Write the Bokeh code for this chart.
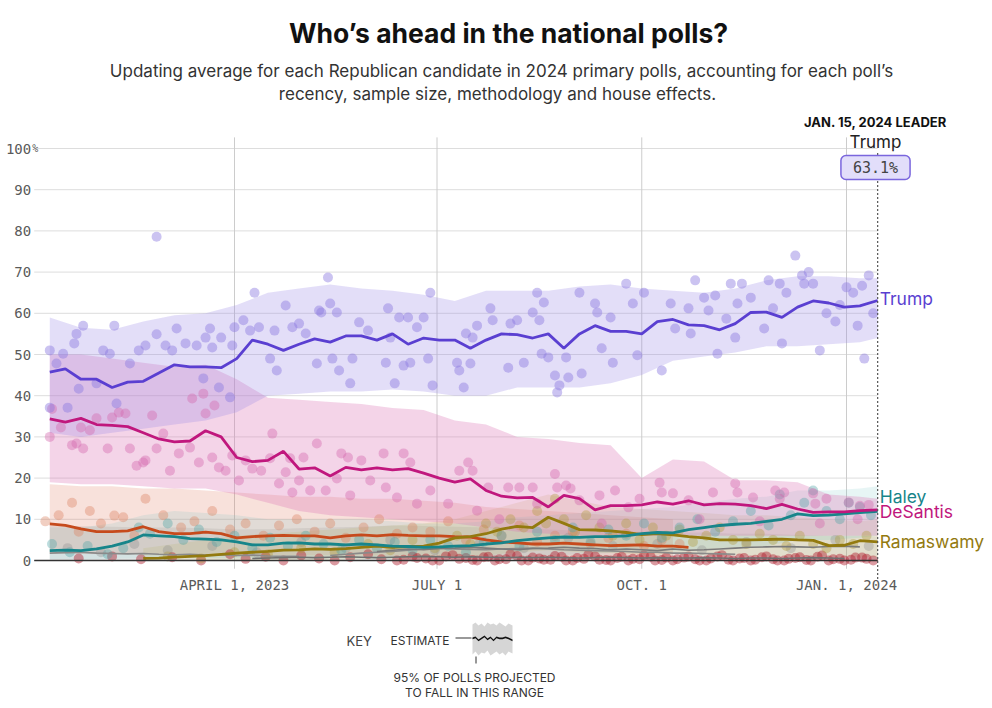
import pandas as pd
from bokeh.plotting import figure
from bokeh.models import Range1d, FixedTicker, Label, PolyAnnotation
from bokeh.embed import file_html
from bokeh.resources import INLINE

# ---------------- data ----------------
ORIGIN = "2023-01-01"
FIRST_WEEK = "2023-01-08"
LEADER_DATE = "2024-01-15"

x_tick_dates = ["2023-04-01", "2023-07-01", "2023-10-01", "2024-01-01"]
x_tick_labels = ["APRIL 1, 2023", "JULY 1", "OCT. 1", "JAN. 1, 2024"]
y_ticks = [0, 10, 20, 30, 40, 50, 60, 70, 80, 90, 100]

trump = [45.7, 46.5, 44, 44, 42, 43.3, 43.5, 45.5, 47.5, 47,
         47, 46.8, 49, 53.5, 52.5, 51, 52.5, 53.8, 53, 54.5,
         54.5, 53.5, 55, 52.5, 54, 53.5, 53.5, 51.5, 53.5, 55,
         54.8, 54, 55, 51.5, 55, 57, 55.6, 55.6, 55, 58,
         58.5, 57.2, 57, 56, 57.5, 60.2, 60.3, 59, 61.5, 63,
         62.5, 61.5, 61.8, 63.1]
desantis = [34.4, 33.6, 34.5, 33, 32.8, 32.5, 31, 29.5, 28.8, 29,
            31.5, 30, 25, 24, 24.3, 26.5, 22.2, 22.5, 20.5, 22.6,
            22, 22.5, 22, 22.3, 21.2, 20, 19, 19.8, 17, 15.6,
            15.2, 15.3, 13, 15.8, 15, 12.3, 13.3, 13.3, 13.5, 14.2,
            13.7, 14.5, 13.5, 13.8, 13.7, 13.3, 12.6, 13.6, 12.5, 11.7,
            11.8, 11.8, 12.1, 12.3]
haley = [2.4, 2.5, 2.4, 2.8, 3.5, 4.5, 6.2, 6, 5.8, 5.3,
         5.2, 5, 4.5, 3.8, 3.8, 4.2, 4.3, 4, 4, 3.8,
         4, 3.8, 3.5, 3.4, 3.2, 3.3, 3.5, 3.6, 4, 4.3,
         4.8, 5.2, 5.5, 5.7, 5.6, 5.8, 5.8, 6, 6.5, 6.8,
         6.7, 7.5, 8, 8.5, 8.8, 9, 9.5, 10, 11.3, 10.9,
         11, 11.3, 11.6, 11.9]
pence = [8.9, 8.5, 7.7, 7, 7, 7.2, 8.2, 7, 6.5, 6.5,
         6.9, 6.5, 5.5, 5.8, 6, 6.1, 6, 6, 5.5, 6,
         6.2, 6, 6.3, 6.1, 6, 6, 5.8, 5.7, 5, 4.5,
         4.3, 4, 4, 4.2, 4, 3.8, 3.6, 3.7, 3.8, 3.5,
         3.5, 3.2]
ramaswamy = [0.5, 0.6, 0.8, 1, 1.2, 1.5, 1.8, 2, 2.2, 2.5,
             2.6, 2.8, 2.7, 2.9, 3.2, 3.5, 3.2, 3.4, 3.5, 4.2,
             5.5, 5.8, 6.5, 7.6, 8.3, 8, 10.5, 9, 7.5, 7.4,
             7.2, 6.8, 6.3, 6.5, 6.2, 5.8, 5.5, 5, 5, 5,
             5.1, 5.2, 5, 4.9, 3.6, 3.7, 4.8, 4.5]
christie = [2.2, 2.5, 2.8, 2.6, 2.9, 3, 3.2, 3, 2.8, 2.6,
            2.9, 3, 3.2, 3, 2.9, 2.6, 2.8, 2.6, 2.4, 2.8,
            2.5, 2.6, 2.8, 3, 3.2, 3.3, 3.4, 3.3, 3.2, 3.4,
            3.5, 3.3]
scott = [1.2, 1.5, 1.8, 2, 2.2, 2.5, 2.8, 3, 2.8, 2.7,
         2.6, 2.8, 2.9, 3, 2.8, 2.6, 2.5, 2.4, 2.3, 2.2,
         2, 2, 1.8, 1.8, 1.7, 1.6, 1.5]
hutchinson = [0.5, 0.6, 0.7, 0.8, 0.7, 0.8, 0.9, 0.8, 0.7, 0.8,
              0.9, 1, 0.9, 0.8, 0.9, 0.8, 0.7, 0.8, 0.7, 0.8,
              0.7, 0.6, 0.7, 0.8, 0.7, 0.6, 0.7, 0.6, 0.6, 0.7,
              0.6, 0.5, 0.6, 0.6, 0.5, 0.6, 0.7, 0.6, 0.5]
early_other = [1.8, 1.9, 2, 1.8, 1.7, 1.6, 1.7, 1.5, 1.4, 1.5,
               1.3, 1.4, 1.2, 1.3, 1.1, 1.0, 1.0]

# 95% ranges (biweekly)
trump_hi = [59, 56.5, 56, 58, 59.5, 60, 62, 65, 66, 67, 66, 65.5, 64.5, 63,
            65.5, 65.5, 65.5, 66.5, 67, 66, 65.5, 65, 66, 68, 69, 69, 68.5, 68.5]
trump_lo = [31, 30, 31, 32, 33, 34, 36, 40, 40.5, 41, 41, 41.5, 41, 40,
            40, 42, 42, 42, 43, 45, 48.5, 49.5, 50.5, 52, 52, 52.5, 53, 54]
desantis_hi = [50, 50, 49, 48, 47, 47.5, 44, 39.5, 39, 38.5, 38, 37, 36.5, 34,
               33, 30, 29.5, 28.5, 28, 20, 24.5, 24, 19.5, 19.5, 19, 16, 15.5, 15]
desantis_lo = [19, 18.5, 18.5, 18, 17.5, 17.5, 16, 14, 12, 11, 10.5, 10, 9.5, 9,
               8, 7, 6.5, 6, 6, 6, 6, 6, 6, 6, 6, 6, 6, 6]
pence_hi = [18.5, 18, 18, 17.5, 17.5, 17, 16.5, 16, 15.5, 15.5, 15, 15, 14.5, 14,
            13, 12.5, 12, 11.5, 11, 10.5, 10]
pence_lo = [1.8, 1.6, 1.5, 1.5, 1.4, 1.4, 1.3, 1.3, 1.2, 1.2, 1.2, 1.1, 1.1, 1,
            1, 0.9, 0.9, 0.8, 0.8, 0.8, 0.7]
haley_hi = [8, 8, 9, 11, 12, 11.5, 11, 10, 10, 10, 10, 9.5, 9, 9,
            9.5, 10.5, 11, 11.5, 12, 12.5, 13, 14, 15, 15.5, 17, 17, 17.5, 18]
haley_lo = [0.3, 0.3, 0.4, 0.5, 0.6, 0.6, 0.5, 0.5, 0.5, 0.5, 0.5, 0.5, 0.5, 0.5,
            0.6, 1, 1.2, 1.5, 1.8, 2, 2.2, 2.8, 3.2, 3.5, 5, 5, 5.5, 6]
rama_hi = [3, 4, 5, 6, 6.5, 7, 7.5, 8, 8.5, 9, 10, 12, 14, 16, 14.5, 13, 12.5,
           12, 11.5, 11, 11, 10.5, 10, 9.5, 10]
rama_lo = [0, 0, 0, 0, 0, 0, 0.2, 0.3, 0.4, 0.5, 0.8, 1.2, 2, 2.5, 2, 1.8, 1.5,
           1.5, 1.2, 1.2, 1, 1, 1, 0.8, 0.8]
others_hi = [8.5, 8.3, 8.2, 8, 8, 7.8, 7.5, 7.6, 7.8, 8, 8.2, 8.5, 8.4, 8.2,
             8, 7.8, 7.5, 7.2, 7, 7, 6.8, 6.8, 6.5, 6.5, 6.2, 6, 6, 5.8]

# individual polls (day offset from ORIGIN, share %)
trump_poll_days = [7, 10, 19, 22, 18, 13, 31, 36, 34, 43, 47, 50, 55, 55, 59, 62, 64, 68, 73, 77,
                   79, 80, 84, 89, 90, 94, 97, 99, 101, 106, 109, 108, 113, 116, 119, 122, 127, 128, 132,
                   7, 15, 20, 28, 37, 76, 83, 88,
                   133, 136, 129, 134, 137, 142, 143, 146, 150, 158, 159, 160, 162, 164, 166, 168, 169,
                   172, 175, 178, 177, 179, 190, 191, 193, 194, 196, 197, 199, 205, 206, 213, 214, 217,
                   220, 224, 226, 227, 228, 229, 231, 234, 235, 236, 239, 240, 245, 246, 252, 253, 255,
                   259, 260, 266, 269, 271, 274, 282, 286, 288, 294, 295, 297, 301, 303, 306, 307, 311,
                   313, 315, 316, 318, 322, 328, 330, 332, 335, 336, 338, 342, 345, 346, 348, 350, 353,
                   365, 368, 372, 375, 373, 356, 360, 362, 370, 377]
trump_poll_vals = [51, 47.8, 55, 57, 52.7, 50.2, 51, 57, 50.2, 47.8, 51, 52.2, 78.6, 54.9, 52.2, 51, 56.3, 52.7, 52.2, 54.1,
                   56.3, 51.7, 54.1, 52.2, 56.6, 58.3, 55.8, 65, 56.6, 49, 46.1, 55.8, 61.9, 56.6, 57.5, 55.1, 47.8, 60.7, 68.7,
                   37.1, 37.1, 41.7, 43, 38.1, 44.2, 42, 39.6,
                   62.4, 60.2, 60.2, 49, 46.1, 43, 49, 57.8, 55.8, 48, 61.2, 54.1, 43, 59, 47.3, 59, 48,
                   56.6, 59, 65, 49, 42.5, 48, 46.1, 42, 55.1, 47.8, 54.1, 57, 61.2, 58.3, 46.8, 57.5, 58.3,
                   48, 60.2, 65, 58.3, 50.2, 62.6, 49.3, 44.9, 40.8, 42.5, 49.3, 44.4, 65, 45.4, 62.4, 60.2, 51.5,
                   59, 48, 67.2, 62.4, 49.8, 65, 46.1, 62.4, 56.3, 61.2, 55.1, 68, 63.8, 60.7, 64.3, 50.2, 58.7,
                   67.2, 54.1, 62.4, 67.2, 63.8, 56.3, 68, 61.2, 67.2, 52.7, 65, 74, 69.2, 67.2, 70, 67.2, 51,
                   66.3, 65, 66.7, 69.2, 49, 60, 58, 62, 57, 60]
desantis_poll_days = [7, 8, 12, 17, 19, 22, 21, 25, 28, 33, 35, 38, 41, 43, 46, 49, 50, 53, 55, 58,
                      61, 65, 70, 74, 77, 80, 83, 86, 89, 92, 95, 98, 102, 106, 107, 110, 113, 115, 81, 76,
                      71, 127, 121, 138, 141, 147, 157, 166, 169, 119, 124, 136, 142, 151, 158, 163, 172, 116,
                      131, 178, 186, 191, 195, 197, 199, 204, 213, 218, 224, 226, 234, 235, 239, 241, 245,
                      254, 261, 267, 272, 281, 282, 287, 294, 305, 315, 316, 323, 333, 335, 337, 350, 351,
                      366, 371, 375, 356, 209, 255, 299, 326, 353, 370]
desantis_poll_vals = [30, 36.8, 32.3, 28, 28.4, 27.2, 32.3, 31.6, 34.5, 27.2, 34.7, 35.9, 35.7, 27.2, 23, 23.8, 24.3, 35.2, 27.2, 30.8,
                      21.8, 26, 27.4, 23.8, 35.7, 25, 22.6, 21.8, 25.5, 19.4, 24.3, 22.3, 21.8, 24.8, 30.8, 18.7, 21.4, 24.8, 37.6, 40.5,
                      39.3, 28.4, 25, 26, 25, 24.3, 26, 26, 23.8, 19.4, 17, 19.9, 15.8, 19.4, 17.7, 15.3, 13.8, 16.5,
                      17, 17, 13.8, 21.8, 23.8, 21.8, 12.1, 17.7, 17.7, 17.7, 17.7, 13.8, 21, 17.7, 18.2, 17.5, 14.6,
                      15.8, 17, 12.9, 15, 18.9, 16.5, 16.3, 14.6, 16.5, 18.7, 16.5, 15.3, 17, 15, 16.5, 16.3, 13.8,
                      14.1, 13.3, 13.5, 15, 10, 9, 10, 9.5, 9, 10]
pence_poll_days = [5, 11, 17, 20, 25, 30, 36, 40, 45, 50, 58, 66, 72, 80, 88, 95, 103, 110, 118, 126,
                   133, 140, 148, 155, 163, 170, 178, 186, 194, 202, 210, 218, 226, 234, 242, 250, 258,
                   266, 274, 282, 290]
pence_poll_vals = [9.5, 11, 14, 7, 12, 9, 10.9, 10.5, 6, 15, 11, 8, 9.5, 12, 7.5, 9, 6, 8.5, 10, 7,
                   9, 5.5, 8, 10, 6.5, 8, 7, 9.5, 5, 7.5, 6, 8.5, 4.5, 6, 7, 4, 5.5,
                   6.5, 3.5, 5, 4]
haley_poll_days = [8, 16, 24, 33, 40, 47, 52, 60, 67, 74, 82, 90, 98, 106, 114, 122, 130, 138, 146, 154,
                   162, 170, 178, 186, 194, 202, 210, 218, 226, 234, 242, 250, 258, 266, 274, 282, 290,
                   298, 306, 314, 322, 330, 335, 340, 346, 350, 356, 362, 366, 371, 376]
haley_poll_vals = [4, 2, 3.5, 1.5, 3, 8, 6.5, 9, 5, 7.5, 4.5, 6, 3, 5.5, 3.5, 6, 4, 2.5, 5, 3,
                   4.5, 2.5, 5, 3.5, 2, 4.5, 6, 3.5, 7, 5, 8, 4.5, 7.5, 6, 9, 5.5, 8,
                   10, 7, 9.5, 12, 8.5, 16, 11, 14, 17, 12, 10, 14, 13, 11]
rama_poll_days = [60, 75, 90, 105, 120, 135, 150, 160, 170, 180, 190, 196, 203, 208, 214, 220, 226, 230,
                  234, 238, 243, 248, 254, 260, 266, 272, 278, 284, 290, 296, 302, 308, 314, 320, 326,
                  332, 338, 344, 350, 356, 362, 368, 374]
rama_poll_vals = [1, 0.5, 2, 1.5, 3, 2, 4, 2.5, 5, 3, 6, 4, 9, 7, 10, 8, 12, 9,
                  15, 10, 7, 11, 8, 6, 9, 5, 8, 6, 7.5, 4.5, 6, 8, 5, 4, 6.5,
                  5, 3.5, 6, 4, 3, 5, 4, 6]
other_poll_days = [15, 30, 45, 60, 80, 100, 120, 140, 160, 180, 200, 220, 240, 260, 280, 300, 320, 340, 360, 375]
other_poll_vals = [3, 2, 4, 2.5, 3.5, 2, 4.5, 3, 5, 2.5, 4, 3, 5.5, 3.5, 4, 2.5, 4.5, 3, 5, 3.5]
zero_poll_days = [20, 35, 48, 62, 75, 88, 95, 104, 112, 120, 128, 135, 142, 150, 156, 163, 170, 176, 182, 188,
                  194, 199, 204, 209, 214, 219, 224, 229, 234, 239, 244, 249, 254, 259, 264, 269, 274, 279,
                  284, 289, 294, 299, 304, 309, 314, 319, 324, 329, 334, 339, 344, 349, 354, 359, 364, 369, 374]
zero_poll_vals = [0.5, 1, 0.3, 0.8, 0, 1.5, 0.4, 0.9, 0, 1.2, 0.5, 0, 0.8, 1.5, 0.3, 0, 1, 0.5, 0, 1.3,
                  0.6, 0, 0.9, 0.3, 1.5, 0, 0.7, 0.2, 1.1, 0, 0.6, 1.4, 0.2, 0, 0.9, 0.4, 1.2, 0,
                  0.7, 0.3, 1, 0, 0.5, 1.3, 0, 0.6, 0.2, 1, 0, 0.4, 0.8, 0, 1.2, 0.3, 0, 0.7, 0.4]
zero2_poll_days = [166, 172, 179, 185, 191, 197, 202, 207, 212, 217, 222, 227, 232, 237, 242, 247, 252, 257, 262, 267,
                   272, 277, 282, 287, 292, 297, 302, 307, 312, 317, 322, 327, 332, 337, 342, 347, 352, 357, 362, 367,
                   372, 377]
zero2_poll_vals = [0.2, 0.6, 0, 1, 0.4, 0.1, 0.8, 0, 0.3, 1.1, 0, 0.5, 0.2, 0.9, 0, 0.4, 1, 0.1, 0.6, 0,
                   0.3, 0.9, 0.1, 0, 0.7, 0.3, 0, 1, 0.2, 0.5, 0, 0.8, 0.3, 0, 0.6, 0.1, 0.9, 0, 0.4, 0.2,
                   0.7, 0]

# key illustration (pixel offsets inside the key swatch)
key_dx = [0, 3, 6, 9, 12, 15, 18, 21, 24, 27, 30, 33, 36, 40]
key_top = [2, 0, 3, 1, 4, 0, 2, 1, 3, 0, 2, 4, 1, 3]
key_bottom = [32, 29, 33, 30, 31, 28, 33, 31, 29, 32, 30, 33, 29, 31]
key_line = [15, 14, 17, 15, 13, 16, 14, 17, 14, 15, 15, 14, 15, 17]

# ---------------- geometry ----------------
W, H = 990, 706
DAY0_PX = 33.7      # screen x of day 0
PX_PER_DAY = 2.2255
ZERO_PX = 560.0     # screen y of 0 %
PX_PER_PCT = 4.12
PLOT_TOP = 102.7    # top of plotting area, in %
PLOT_BOTTOM = -1.0


def to_day(d):
    return (pd.Timestamp(d) - pd.Timestamp(ORIGIN)).days


week_days = [to_day(d) for d in pd.date_range(FIRST_WEEK, periods=len(trump) - 1, freq="7D")] + [to_day(LEADER_DATE)]
band_days = [to_day(d) for d in pd.date_range(FIRST_WEEK, periods=len(trump_hi) - 1, freq="14D")] + [to_day(LEADER_DATE)]
leader_day = to_day(LEADER_DATE)
x_ticks = [to_day(d) for d in x_tick_dates]

TRUMP_C = "#5a3fd1"
DES_C = "#c0177d"
HALEY_C = "#17858a"
RAMA_C = "#937a0f"
PENCE_C = "#c64a1c"
GRAY_C = "#8a8a8a"
ZERO_C = "#b0202e"

SANS = "Inter"
MONO = "DejaVu Sans Mono"

p = figure(width=W, height=H,
           x_range=Range1d(-DAY0_PX / PX_PER_DAY, (W - DAY0_PX) / PX_PER_DAY),
           y_range=Range1d((ZERO_PX - H) / PX_PER_PCT, ZERO_PX / PX_PER_PCT),
           output_backend="svg", toolbar_location=None, min_border=0,
           outline_line_color=None, background_fill_color="white", border_fill_color="white")
p.grid.visible = False

# axes, pinned to the plotting area's edges
p.yaxis.fixed_location = 0
p.xaxis.fixed_location = PLOT_BOTTOM
p.yaxis.ticker = FixedTicker(ticks=y_ticks)
p.yaxis.major_label_overrides = {t: str(t) for t in y_ticks}
p.xaxis.ticker = FixedTicker(ticks=x_ticks)
p.xaxis.major_label_overrides = dict(zip(x_ticks, x_tick_labels))
for ax in (p.xaxis, p.yaxis):
    ax.axis_line_color = None
    ax.major_tick_line_color = None
    ax.minor_tick_line_color = None
    ax.major_tick_out = 0
    ax.major_tick_in = 0
    ax.major_label_text_font = MONO
    ax.major_label_text_font_size = "14px"
    ax.major_label_text_color = "#5a5a5a"
p.yaxis.major_label_standoff = 3
p.xaxis.major_label_standoff = 12

# grid lines bounded to the plotting area
p.segment(x0=0, x1=leader_day, y0=y_ticks, y1=y_ticks, line_color="#dddddd", line_width=1)
p.segment(x0=x_ticks, x1=x_ticks, y0=PLOT_BOTTOM - 1, y1=PLOT_TOP, line_color="#cccccc", line_width=1)

# bands
p.varea(x=band_days, y1=0, y2=others_hi, fill_color="#9a9a9a", fill_alpha=0.22)
p.varea(x=band_days[:len(pence_hi)], y1=pence_lo, y2=pence_hi, fill_color="#e0785a", fill_alpha=0.22)
p.varea(x=band_days[len(band_days) - len(rama_hi):], y1=rama_lo, y2=rama_hi, fill_color="#c9b45a", fill_alpha=0.2)
p.varea(x=band_days, y1=haley_lo, y2=haley_hi, fill_color="#6cc0c2", fill_alpha=0.16)
p.varea(x=band_days, y1=desantis_lo, y2=desantis_hi, fill_color="#dc7ab9", fill_alpha=0.32)
p.varea(x=band_days, y1=trump_lo, y2=trump_hi, fill_color="#9a8ae6", fill_alpha=0.28)

# polls
DOT = 10
p.scatter(x=other_poll_days, y=other_poll_vals, size=DOT, fill_color="#8f8f8f", fill_alpha=0.35, line_color=None)
p.scatter(x=zero_poll_days + zero2_poll_days, y=zero_poll_vals + zero2_poll_vals, size=DOT,
          fill_color=ZERO_C, fill_alpha=0.45, line_color=None)
p.scatter(x=pence_poll_days, y=pence_poll_vals, size=DOT, fill_color="#d9805f", fill_alpha=0.38, line_color=None)
p.scatter(x=rama_poll_days, y=rama_poll_vals, size=DOT, fill_color="#b09a3c", fill_alpha=0.38, line_color=None)
p.scatter(x=haley_poll_days, y=haley_poll_vals, size=DOT, fill_color="#4fa3a6", fill_alpha=0.38, line_color=None)
p.scatter(x=desantis_poll_days, y=desantis_poll_vals, size=DOT, fill_color="#d46aad", fill_alpha=0.42, line_color=None)
p.scatter(x=trump_poll_days, y=trump_poll_vals, size=DOT, fill_color="#8c7ae0", fill_alpha=0.45, line_color=None)

# averages
p.line(x=week_days[:len(early_other)], y=early_other, line_color=GRAY_C, line_width=1.6)
p.line(x=week_days[13:13 + len(hutchinson)], y=hutchinson, line_color="#6f6f6f", line_width=1.6)
p.line(x=week_days[18:18 + len(scott)], y=scott, line_color=GRAY_C, line_width=1.6)
p.line(x=week_days[21:21 + len(christie)], y=christie, line_color="#7a7a7a", line_width=1.6)
p.line(x=week_days[:len(pence)], y=pence, line_color=PENCE_C, line_width=2.8)
p.line(x=week_days[len(week_days) - len(ramaswamy):], y=ramaswamy, line_color=RAMA_C, line_width=2.8)
p.line(x=week_days, y=haley, line_color=HALEY_C, line_width=2.8)
p.line(x=week_days, y=desantis, line_color=DES_C, line_width=2.8)
p.line(x=week_days, y=trump, line_color=TRUMP_C, line_width=2.8)

# baseline and leader line
p.segment(x0=0, x1=leader_day, y0=0, y1=0, line_color="#333333", line_width=1.5)
p.segment(x0=leader_day, x1=leader_day, y0=PLOT_BOTTOM - 3.5, y1=99, line_color="#555555",
          line_width=1.2, line_dash="2 2")


def lab(text, x, y, xo=0, yo=0, size="16px", color="#222", font=SANS, align="left",
        style="normal", units="data", **kw):
    lb = Label(x=x, y=y, x_offset=xo, y_offset=yo, text=text, text_font=font,
               text_font_size=size, text_color=color, text_align=align,
               text_baseline="middle", text_font_style=style,
               x_units=units, y_units=units, **kw)
    p.add_layout(lb)
    return lb


def slab(text, sx, sy, **kw):
    """label at a screen position given from the top-left corner"""
    return lab(text, sx, H - sy, units="screen", **kw)


# titles
slab("Who\u2019s ahead in the national polls?", 508, 32, size="26.5px", color="#111",
     align="center", style="bold")
slab("Updating average for each Republican candidate in 2024 primary polls, accounting for each poll\u2019s",
     501, 70, size="17px", color="#333", align="center")
slab("recency, sample size, methodology and house effects.", 497, 93, size="17px",
     color="#333", align="center")

# % sign on top tick
lab("%", 0, 100, xo=-2, yo=0, size="10px", color="#5a5a5a", font=MONO)

# leader box
slab("JAN. 15, 2024 LEADER", 875, 121, size="13px", color="#111", align="center", style="bold")
slab("Trump", 875, 141, size="17px", color="#222", align="center")
slab(f"{trump[-1]:.1f}%", 875, 167, size="15px", color="#444", font=MONO, align="center",
     background_fill_color="#e2defa", background_fill_alpha=1.0,
     border_line_color="#7a66dd", border_line_width=1.5, padding=(12, 12, 3, 3), border_radius=5)

# end labels
lab("Trump", leader_day, trump[-1], xo=2, yo=2, color=TRUMP_C, size="17.5px")
lab("Haley", leader_day, haley[-1], xo=2, yo=15, color=HALEY_C, size="17.5px")
lab("DeSantis", leader_day, desantis[-1], xo=2, yo=-2, color=DES_C, size="17.5px")
lab("Ramaswamy", leader_day, ramaswamy[-1], xo=2, yo=0, color=RAMA_C, size="17.5px")

# ---------------- key ----------------
KX, KY = 472, 622   # swatch top-left on screen


def poly(xs, ys_top, **kw):
    p.add_layout(PolyAnnotation(xs=xs, ys=[H - y for y in ys_top], xs_units="screen",
                                ys_units="screen", line_color=None, fill_alpha=1.0, **kw))


poly([KX + d for d in key_dx] + [KX + d for d in reversed(key_dx)],
     [KY + t for t in key_top] + [KY + b for b in reversed(key_bottom)], fill_color="#d6d6d6")
poly([KX + d for d in key_dx] + [KX + d for d in reversed(key_dx)],
     [KY + v for v in key_line] + [KY + v + 1.8 for v in reversed(key_line)], fill_color="#111111")
poly([KX - 17, KX - 1, KX - 1, KX - 17], [KY + 15, KY + 15, KY + 16, KY + 16], fill_color="#333333")
poly([KX + 3, KX + 4, KX + 4, KX + 3], [KY + 34, KY + 34, KY + 41, KY + 41], fill_color="#333333")

slab("KEY", 346, 640, size="13px", color="#444")
slab("ESTIMATE", 390, 640, size="12px", color="#333")
slab("95% OF POLLS PROJECTED", 474, 677, size="12px", color="#333", align="center")
slab("TO FALL IN THIS RANGE", 474, 692, size="12px", color="#333", align="center")

open("out.html", "w").write(file_html(p, INLINE))
